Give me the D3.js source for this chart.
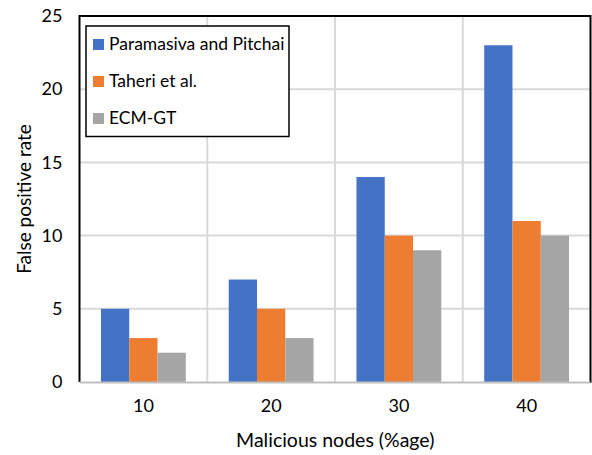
<!DOCTYPE html>
<html>
<head>
<meta charset="utf-8">
<script src="https://cdn.jsdelivr.net/npm/d3@7"></script>
<style>
  body { margin: 0; background: #fff; }
  text { font-family: Lato, "Open Sans", sans-serif; fill: #000; }
</style>
</head>
<body>
<script>
const width = 592, height = 455;
const margin = {top: 16, right: 1, bottom: 73, left: 79.5};

const categories = ["10", "20", "30", "40"];
const seriesNames = ["Paramasiva and Pitchai", "Taheri et al.", "ECM-GT"];
const paramasiva = [5, 7, 14, 23];
const taheri = [3, 5, 10, 11];
const ecmgt = [2, 3, 9, 10];
const yTicks = [0, 5, 10, 15, 20, 25];
const colors = ["#4472C4", "#ED7D31", "#A5A5A5"];

const series = [paramasiva, taheri, ecmgt];

const svg = d3.select("body").append("svg")
    .attr("width", width).attr("height", height);

const x0 = d3.scaleBand()
    .domain(categories)
    .range([margin.left, width - margin.right - 0.5])
    .padding(0);

const bw = x0.bandwidth();
const x1 = d3.scaleBand()
    .domain(seriesNames)
    .range([bw * 0.168, bw * 0.832]);

const y = d3.scaleLinear()
    .domain([0, 25])
    .range([height - margin.bottom, margin.top]);

// grid
svg.append("g")
    .selectAll("line.h")
    .data(yTicks.slice(1))
    .join("line")
    .attr("x1", margin.left).attr("x2", width - margin.right - 0.5)
    .attr("y1", d => y(d)).attr("y2", d => y(d))
    .attr("stroke", "#d9d9d9").attr("stroke-width", 2);

svg.append("g")
    .selectAll("line.v")
    .data(categories.slice(1))
    .join("line")
    .attr("x1", d => x0(d)).attr("x2", d => x0(d))
    .attr("y1", margin.top).attr("y2", y(0))
    .attr("stroke", "#d9d9d9").attr("stroke-width", 2);

// bars
svg.append("g")
    .selectAll("g")
    .data(series)
    .join("g")
    .attr("fill", (d, i) => colors[i])
    .selectAll("rect")
    .data((d, i) => d.map((v, j) => ({v: v, c: categories[j], s: seriesNames[i]})))
    .join("rect")
    .attr("x", d => x0(d.c) + x1(d.s))
    .attr("width", x1.bandwidth())
    .attr("y", d => y(d.v))
    .attr("height", d => y(0) - y(d.v));

// frame
svg.append("path")
    .attr("d", `M${margin.left},${y(0)}V${margin.top}H${width - margin.right - 0.5}V${y(0) + 1}`)
    .attr("fill", "none").attr("stroke", "#000").attr("stroke-width", 2);

svg.append("line")
    .attr("x1", margin.left).attr("x2", width - margin.right - 0.5)
    .attr("y1", y(0) + 0.5).attr("y2", y(0) + 0.5)
    .attr("stroke", "#bfbfbf").attr("stroke-width", 2);

// axes
const yAxis = svg.append("g")
    .attr("transform", `translate(${margin.left},0)`)
    .call(d3.axisLeft(y).tickValues(yTicks).tickSize(0).tickPadding(17))
    .call(g => g.select(".domain").remove());
yAxis.selectAll("text").style("font-size", "18px");

const xAxis = svg.append("g")
    .attr("transform", `translate(0,${y(0)})`)
    .call(d3.axisBottom(x0).tickSize(0).tickPadding(17))
    .call(g => g.select(".domain").remove());
xAxis.selectAll("text").style("font-size", "18px");

svg.selectAll(".tick text").attr("fill", "#000").style("font-family", "Lato, sans-serif");

// axis titles
svg.append("text")
    .attr("x", (margin.left + width - margin.right) / 2)
    .attr("y", 447)
    .attr("text-anchor", "middle")
    .style("font-size", "19.5px")
    .text("Malicious nodes (%age)");

svg.append("text")
    .attr("transform", `translate(31,${(margin.top + y(0)) / 2}) rotate(-90)`)
    .attr("text-anchor", "middle")
    .style("font-size", "19px")
    .text("False positive rate");

// legend
const legend = svg.append("g").attr("transform", "translate(86,26)");
legend.append("rect")
    .attr("width", 203).attr("height", 110.5)
    .attr("fill", "#fff").attr("stroke", "#000").attr("stroke-width", 1.5);

const item = legend.selectAll("g.item")
    .data(seriesNames)
    .join("g")
    .attr("transform", (d, i) => `translate(7,${18 + i * 37})`);
item.append("rect")
    .attr("y", -5).attr("width", 11).attr("height", 11)
    .attr("fill", (d, i) => colors[i]);
item.append("text")
    .attr("x", 16).attr("y", 0).attr("dy", "0.35em")
    .style("font-size", "17.5px")
    .text(d => d);
</script>
</body>
</html>
